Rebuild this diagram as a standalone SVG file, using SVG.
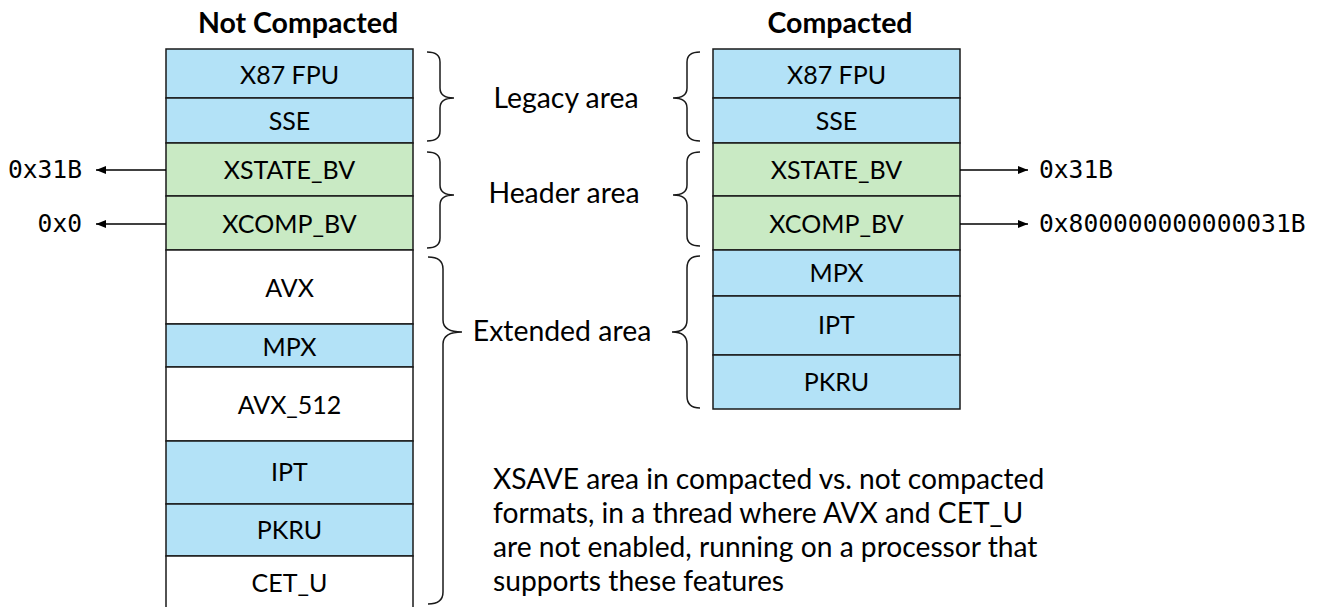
<svg xmlns="http://www.w3.org/2000/svg" width="1320" height="607" viewBox="0 0 1320 607">
<defs>
<marker id="ah" viewBox="0 0 10 8" refX="10" refY="4" markerWidth="10" markerHeight="8" markerUnits="userSpaceOnUse" orient="auto">
<path d="M0,0 L10,4 L0,8 Z" fill="#000"/>
</marker>
<style>
.blue{fill:#b3e2f7;stroke:#1a1a1a;stroke-width:1.5}
.green{fill:#c9eac4;stroke:#1a1a1a;stroke-width:1.5}
.white{fill:#ffffff;stroke:#1a1a1a;stroke-width:1.5}
.lbl{font-family:Lato,"Open Sans",sans-serif;font-size:25px;fill:#000;text-anchor:middle}
.title{font-family:Lato,"Open Sans",sans-serif;font-size:28.5px;font-weight:bold;fill:#000;text-anchor:middle}
.area{font-family:Lato,"Open Sans",sans-serif;font-size:28.4px;fill:#000;text-anchor:middle}
.mono{font-family:"DejaVu Sans Mono","Liberation Mono",monospace;font-size:24.6px;fill:#000}
.cap{font-family:Lato,"Open Sans",sans-serif;font-size:28.2px;fill:#000}
.brace{fill:none;stroke:#1a1a1a;stroke-width:1.5}
.conn{fill:none;stroke:#000;stroke-width:1.5;marker-end:url(#ah)}
</style>
</defs>
<rect width="1320" height="607" fill="#fff"/>
<text class="title" x="298" y="33">Not Compacted</text>
<text class="title" x="840" y="33">Compacted</text>

<g id="nc-x87"><rect class="blue" x="166" y="49" width="247" height="49"/><text class="lbl" x="289.5" y="83.5">X87 FPU</text></g>
<g id="nc-sse"><rect class="blue" x="166" y="98" width="247" height="45"/><text class="lbl" x="289.5" y="129.5">SSE</text></g>
<g id="nc-xstate"><rect class="green" x="166" y="143" width="247" height="53"/><text class="lbl" x="289.5" y="178.5">XSTATE_BV</text></g>
<g id="nc-xcomp"><rect class="green" x="166" y="196" width="247" height="54"/><text class="lbl" x="289.5" y="232.5">XCOMP_BV</text></g>
<g id="nc-avx"><rect class="white" x="166" y="250" width="247" height="74"/><text class="lbl" x="289.5" y="296.5">AVX</text></g>
<g id="nc-mpx"><rect class="blue" x="166" y="324" width="247" height="43"/><text class="lbl" x="289.5" y="355.5">MPX</text></g>
<g id="nc-avx512"><rect class="white" x="166" y="367" width="247" height="74"/><text class="lbl" x="289.5" y="413.5">AVX_512</text></g>
<g id="nc-ipt"><rect class="blue" x="166" y="441" width="247" height="63"/><text class="lbl" x="289.5" y="480.5">IPT</text></g>
<g id="nc-pkru"><rect class="blue" x="166" y="504" width="247" height="52"/><text class="lbl" x="289.5" y="538.5">PKRU</text></g>
<g id="nc-cetu"><rect class="white" x="166" y="556" width="247" height="60"/><text class="lbl" x="289.5" y="591.5">CET_U</text></g>

<g id="c-x87"><rect class="blue" x="713" y="49" width="247" height="49"/><text class="lbl" x="836.5" y="83.5">X87 FPU</text></g>
<g id="c-sse"><rect class="blue" x="713" y="98" width="247" height="45"/><text class="lbl" x="836.5" y="129.5">SSE</text></g>
<g id="c-xstate"><rect class="green" x="713" y="143" width="247" height="53"/><text class="lbl" x="836.5" y="178.5">XSTATE_BV</text></g>
<g id="c-xcomp"><rect class="green" x="713" y="196" width="247" height="54"/><text class="lbl" x="836.5" y="232.5">XCOMP_BV</text></g>
<g id="c-mpx"><rect class="blue" x="713" y="250" width="247" height="46"/><text class="lbl" x="836.5" y="281.5">MPX</text></g>
<g id="c-ipt"><rect class="blue" x="713" y="296" width="247" height="59"/><text class="lbl" x="836.5" y="333.5">IPT</text></g>
<g id="c-pkru"><rect class="blue" x="713" y="355" width="247" height="54"/><text class="lbl" x="836.5" y="390.5">PKRU</text></g>

<g id="braces">
<path class="brace" d="M427,52 Q440,52 440,62 L440,88 Q440,98 454,98 Q440,98 440,108 L440,131 Q440,141 427,141"/>
<path class="brace" d="M427,152 Q440,152 440,162 L440,185 Q440,195 454,195 Q440,195 440,205 L440,238 Q440,248 427,248"/>
<path class="brace" d="M428,257 Q443,257 443,269 L443,320 Q443,332 462,332 Q443,332 443,344 L443,592 Q443,604 428,604"/>
<path class="brace" d="M700,52 Q687,52 687,62 L687,88 Q687,98 673,98 Q687,98 687,108 L687,131 Q687,141 700,141"/>
<path class="brace" d="M700,152 Q687,152 687,162 L687,185 Q687,195 673,195 Q687,195 687,205 L687,236 Q687,246 700,246"/>
<path class="brace" d="M700,256 Q687,256 687,268 L687,320 Q687,332 672,332 Q687,332 687,344 L687,396 Q687,408 700,408"/>
</g>

<g id="area-labels">
<text class="area" x="566" y="108">Legacy area</text>
<text class="area" x="564" y="203">Header area</text>
<text class="area" x="562" y="341">Extended area</text>
</g>

<g id="connectors">
<line class="conn" x1="166" y1="170" x2="96" y2="170"/>
<line class="conn" x1="166" y1="224" x2="96" y2="224"/>
<line class="conn" x1="960" y1="170" x2="1028" y2="170"/>
<line class="conn" x1="960" y1="224" x2="1028" y2="224"/>
</g>

<g id="values">
<text class="mono" x="82" y="178" text-anchor="end">0x31B</text>
<text class="mono" x="82" y="232" text-anchor="end">0x0</text>
<text class="mono" x="1039" y="178">0x31B</text>
<text class="mono" x="1039" y="232">0x800000000000031B</text>
</g>

<g id="caption">
<text class="cap" x="493" y="489">XSAVE area in compacted vs. not compacted</text>
<text class="cap" x="493" y="523">formats, in a thread where AVX and CET_U</text>
<text class="cap" x="493" y="557">are not enabled, running on a processor that</text>
<text class="cap" x="493" y="591">supports these features</text>
</g>
</svg>
